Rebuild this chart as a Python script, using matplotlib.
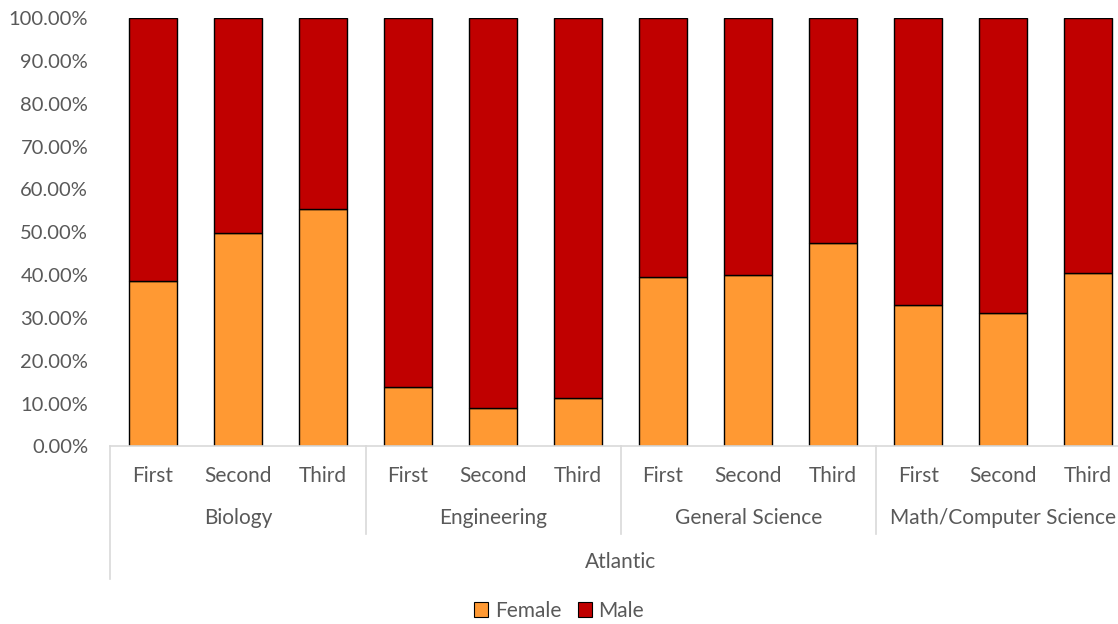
"""Stacked 100% bars: female/male share by year of study, Atlantic region."""

import matplotlib
matplotlib.use("Agg")
import matplotlib.pyplot as plt
from matplotlib.ticker import FuncFormatter
from matplotlib.patches import Patch
from matplotlib.lines import Line2D

plt.rcParams["font.family"] = ["Lato", "DejaVu Sans"]

# --- Data ------------------------------------------------------------------
region = "Atlantic"
fields = ["Biology", "Engineering", "General Science", "Math/Computer Science"]
years = ["First", "Second", "Third"]
female = [
    38.7, 49.8, 55.5,   # Biology
    13.9, 9.0, 11.2,    # Engineering
    39.6, 40.0, 47.5,   # General Science
    32.9, 31.2, 40.4,   # Math/Computer Science
]
male = [100 - f for f in female]

female_color = "#FF9933"
male_color = "#C00000"
text_color = "#595959"
line_color = "#D9D9D9"
fs = 15

# --- Figure ----------------------------------------------------------------
fig = plt.figure(figsize=(11.18, 6.24), dpi=100)
ax = fig.add_axes([0.0988, 0.2845, 0.9012, 0.6867])

x = list(range(len(female)))
ax.bar(x, female, width=0.57, color=female_color, edgecolor="black", linewidth=1.0)
ax.bar(x, male, width=0.57, bottom=female, color=male_color, edgecolor="black", linewidth=1.0)

ax.set_ylim(0, 100)
ax.set_xlim(-0.5, 11.35)
ax.set_yticks(range(0, 101, 10))
ax.yaxis.set_major_formatter(FuncFormatter(lambda v, _: f"{v:.2f}%"))
ax.tick_params(axis="y", length=0, pad=16, labelsize=14.5, labelcolor=text_color)

for side in ("left", "right", "top"):
    ax.spines[side].set_visible(False)
ax.spines["bottom"].set_color(line_color)
ax.spines["bottom"].set_linewidth(1.2)

# year labels as ticks
ax.set_xticks(x)
ax.set_xticklabels(years * len(fields))
ax.tick_params(axis="x", length=0, pad=14, labelsize=fs, labelcolor=text_color)

# --- Multi-level category axis ---------------------------------------------
trans = ax.get_xaxis_transform()
n = len(years)
for i, field in enumerate(fields):
    centre = i * n + (n - 1) / 2
    ax.text(centre, -0.167, field, transform=trans, ha="center", va="center",
            fontsize=fs, color=text_color, clip_on=False)
    left = i * n - 0.5
    bottom = -0.309 if i == 0 else -0.204
    ax.add_line(Line2D([left, left], [0, bottom], transform=trans,
                       color=line_color, linewidth=1.2, clip_on=False))

ax.text(len(female) / 2 - 0.5, -0.27, region, transform=trans, ha="center",
        va="center", fontsize=fs, color=text_color, clip_on=False)

# --- Legend -----------------------------------------------------------------
handles = [
    Patch(facecolor=female_color, edgecolor="black", linewidth=0.8, label="Female"),
    Patch(facecolor=male_color, edgecolor="black", linewidth=0.8, label="Male"),
]
fig.legend(handles=handles, loc="center", bbox_to_anchor=(0.5, 13 / 624), ncol=2,
           frameon=False, fontsize=fs, labelcolor=text_color,
           handlelength=0.7, handleheight=0.7, handletextpad=0.3, columnspacing=0.8)

fig.savefig("out.png", dpi=100)
